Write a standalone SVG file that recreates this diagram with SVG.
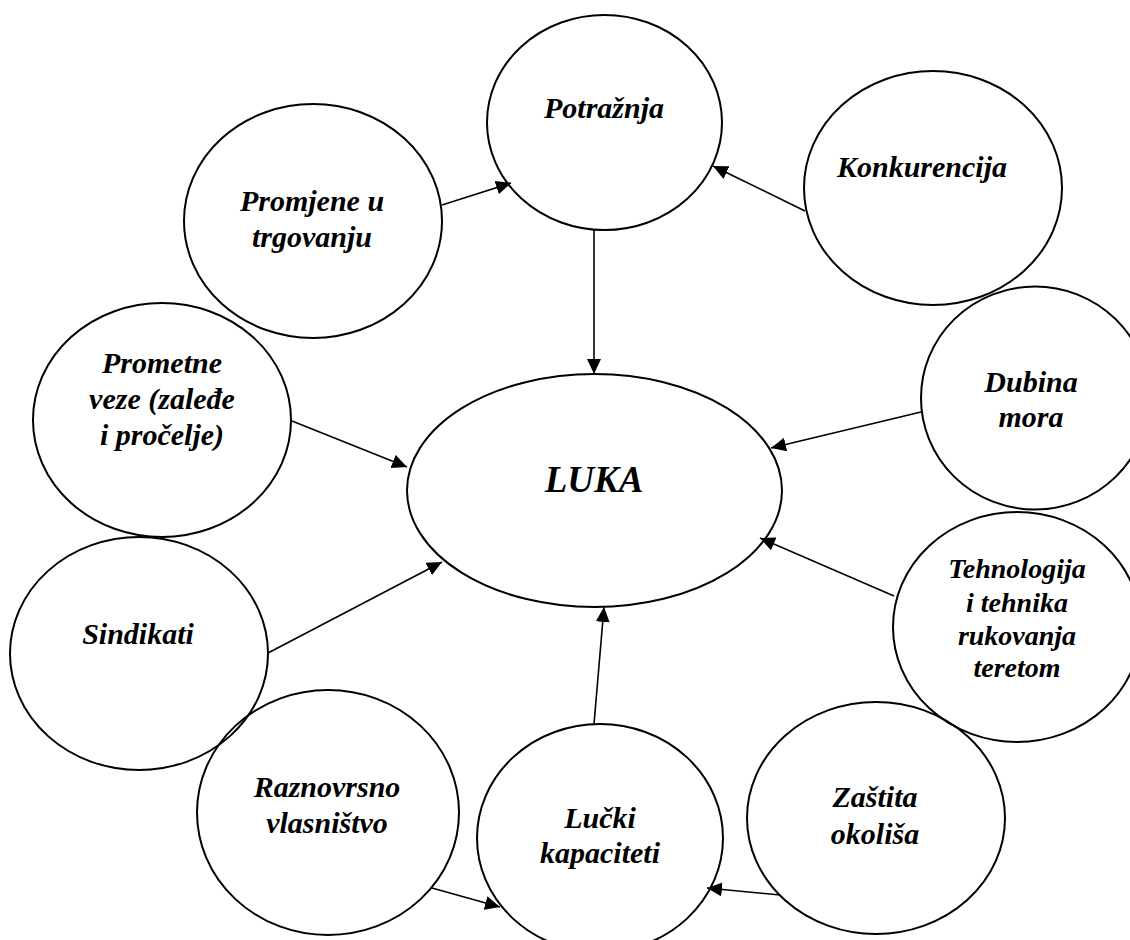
<svg xmlns="http://www.w3.org/2000/svg" width="1130" height="940" viewBox="0 0 1130 940">
  <style>
    .node { fill: none; stroke: #000; stroke-width: 2; }
    .lbl { font-family: "Liberation Serif", "Times New Roman", serif; font-weight: bold; font-style: italic; font-size: 30px; fill: #000; text-anchor: middle; }
    .small { font-size: 28px; }
    .big { font-size: 37px; }
    .conn { stroke: #000; stroke-width: 1.6; fill: none; marker-end: url(#arrow); }
  </style>
  <defs>
    <marker id="arrow" markerUnits="userSpaceOnUse" markerWidth="16" markerHeight="14" refX="15" refY="7" orient="auto">
      <path d="M0,0 L15,7 L0,14 Z" fill="#000"/>
    </marker>
  </defs>
  <rect x="0" y="0" width="1130" height="940" fill="#fff"/>

  <g id="connectors">
    <line class="conn" x1="442" y1="205" x2="511" y2="183"/>
    <line class="conn" x1="805" y1="211" x2="713" y2="166"/>
    <line class="conn" x1="594" y1="230" x2="594" y2="374"/>
    <line class="conn" x1="292" y1="421" x2="407" y2="467"/>
    <line class="conn" x1="921" y1="412" x2="771" y2="448"/>
    <line class="conn" x1="268" y1="653" x2="442" y2="562"/>
    <line class="conn" x1="894" y1="596" x2="760" y2="538"/>
    <line class="conn" x1="594" y1="724" x2="604" y2="607"/>
    <line class="conn" x1="432" y1="888" x2="500" y2="907"/>
    <line class="conn" x1="780" y1="895" x2="707" y2="888"/>
  </g>

  <g id="potraznja">
    <ellipse class="node" cx="604.5" cy="122.5" rx="117.5" ry="107.5"/>
    <text class="lbl" x="604" y="118">Potražnja</text>
  </g>
  <g id="konkurencija">
    <ellipse class="node" cx="933" cy="188" rx="129" ry="117"/>
    <text class="lbl" x="922" y="177">Konkurencija</text>
  </g>
  <g id="promjene">
    <ellipse class="node" cx="313" cy="221" rx="129" ry="117"/>
    <text class="lbl" x="312" y="211">Promjene u</text>
    <text class="lbl" x="312" y="247">trgovanju</text>
  </g>
  <g id="prometne">
    <ellipse class="node" cx="162" cy="420" rx="129" ry="117"/>
    <text class="lbl" x="162" y="373">Prometne</text>
    <text class="lbl" x="162" y="409">veze (zaleđe</text>
    <text class="lbl" x="162" y="445">i pročelje)</text>
  </g>
  <g id="dubina">
    <ellipse class="node" cx="1035" cy="398" rx="114" ry="111.5"/>
    <text class="lbl" x="1031" y="392">Dubina</text>
    <text class="lbl" x="1031" y="427">mora</text>
  </g>
  <g id="luka">
    <ellipse class="node" cx="594.5" cy="490.5" rx="187.5" ry="116.5"/>
    <text class="lbl big" x="594" y="492">LUKA</text>
  </g>
  <g id="sindikati">
    <ellipse class="node" cx="139" cy="653.5" rx="129" ry="116.5"/>
    <text class="lbl" x="138" y="644">Sindikati</text>
  </g>
  <g id="tehnologija">
    <ellipse class="node" cx="1017" cy="627" rx="124" ry="115"/>
    <text class="lbl small" x="1017" y="578">Tehnologija</text>
    <text class="lbl small" x="1017" y="612">i tehnika</text>
    <text class="lbl small" x="1017" y="645">rukovanja</text>
    <text class="lbl small" x="1017" y="677">teretom</text>
  </g>
  <g id="raznovrsno">
    <ellipse class="node" cx="328" cy="812.5" rx="131" ry="122.5"/>
    <text class="lbl" x="327" y="797">Raznovrsno</text>
    <text class="lbl" x="327" y="833">vlasništvo</text>
  </g>
  <g id="lucki">
    <ellipse class="node" cx="600" cy="838" rx="123" ry="114"/>
    <text class="lbl" x="600" y="828">Lučki</text>
    <text class="lbl" x="600" y="863">kapaciteti</text>
  </g>
  <g id="zastita">
    <ellipse class="node" cx="876" cy="818" rx="129" ry="116"/>
    <text class="lbl" x="875" y="807">Zaštita</text>
    <text class="lbl" x="875" y="844">okoliša</text>
  </g>
</svg>
